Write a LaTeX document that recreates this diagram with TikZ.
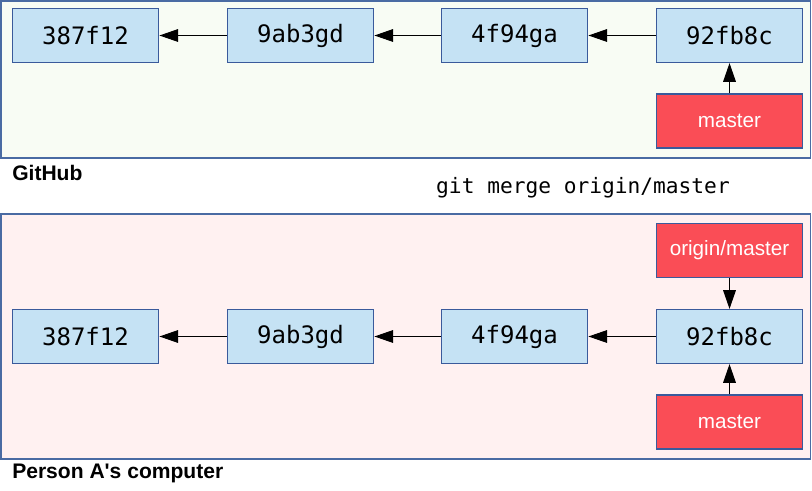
\documentclass[tikz,border=0pt]{standalone}
\usepackage{fontspec}
\newfontfamily\labelfont{Liberation Sans}
\newfontfamily\hashfont{DejaVu Sans Mono}
\usetikzlibrary{arrows.meta}
\definecolor{panelline}{HTML}{4A6BA3}
\definecolor{githubfill}{HTML}{F8FCF4}
\definecolor{localfill}{HTML}{FFF1F1}
\definecolor{commitfill}{HTML}{C5E2F4}
\definecolor{commitline}{HTML}{3A5A9B}
\definecolor{branchfill}{HTML}{FA4D56}
\tikzset{
  commit/.style={draw=commitline, fill=commitfill, line width=0.9pt,
    minimum width=110pt, minimum height=40.5pt, inner sep=0pt,
    font=\hashfont\fontsize{18}{21}\selectfont},
  branch/.style={commit, fill=branchfill, text=white,
    font=\labelfont\fontsize{15.5}{18}\selectfont},
  panel/.style={draw=panelline, line width=1.2pt},
  caption/.style={anchor=west, inner sep=0pt, font=\labelfont\bfseries\fontsize{15.8}{18}\selectfont},
  parent/.style={-{Triangle[length=14pt,width=9.5pt]}, line width=0.75pt}
}
\begin{document}
\begin{tikzpicture}[x=0.75pt,y=-0.75pt]
  \useasboundingbox (0,0) rectangle (812,491);
  % GitHub
  \draw[panel, fill=githubfill] (1,1) rectangle (810.5,158);
  \node[commit] (g1) at (85.5,35.5) {387f12};
  \node[commit] (g2) at (300.5,35.5) {9ab3gd};
  \node[commit] (g3) at (514.5,35.5) {4f94ga};
  \node[commit] (g4) at (729.5,35.5) {92fb8c};
  \node[branch] (gmaster) at (729.5,121) {master};
  \draw[parent] (g2) -- (g1);
  \draw[parent] (g3) -- (g2);
  \draw[parent] (g4) -- (g3);
  \draw[parent] (gmaster) -- (g4);
  \node[caption] (github) at (12,173) {GitHub};
  \node[inner sep=0pt, font=\hashfont\fontsize{15.9}{19}\selectfont] (cmd) at (583,188) {git merge origin/master};
  % Person A
  \draw[panel, fill=localfill] (1,214) rectangle (810.5,459);
  \node[commit] (a1) at (85.5,336.5) {387f12};
  \node[commit] (a2) at (300.5,336.5) {9ab3gd};
  \node[commit] (a3) at (514.5,336.5) {4f94ga};
  \node[commit] (a4) at (729.5,336.5) {92fb8c};
  \node[branch] (aorigin) at (729.5,250.5) {origin/master};
  \node[branch] (amaster) at (729.5,422) {master};
  \draw[parent] (a2) -- (a1);
  \draw[parent] (a3) -- (a2);
  \draw[parent] (a4) -- (a3);
  \draw[parent] (aorigin) -- (a4);
  \draw[parent] (amaster) -- (a4);
  \node[caption] (personA) at (12,473) {Person A's computer};
\end{tikzpicture}
\end{document}
